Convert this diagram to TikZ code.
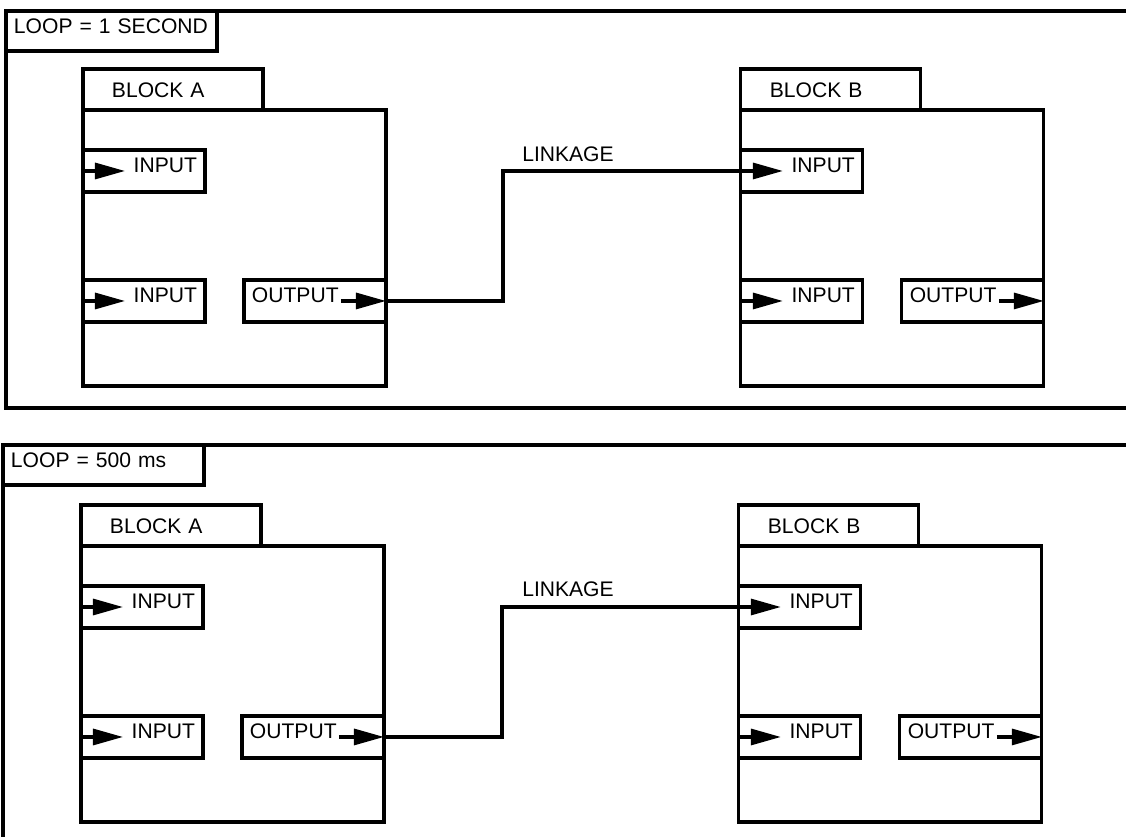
\documentclass[tikz,border=0pt]{standalone}
\usepackage{fontspec}
\setmainfont{Liberation Sans}
\usetikzlibrary{arrows.meta,positioning}

\begin{document}
\begin{tikzpicture}[%
    x=0.02cm, y=-0.02cm,        % one unit per pixel, y runs downwards
    line width=1.8pt,           % all boxes and lines share one weight
    every node/.style={font=\fontsize{12}{14}\selectfont},
    ]
% -------------------------------------------------
% Box styles
\tikzset{
  base/.style={draw, rectangle, inner sep=0pt, outer sep=0pt},
  panel/.style={base, anchor=north west},
  title/.style={base, fill=white, anchor=north west, minimum height=0.8cm,
    align=left, inner xsep=0.16cm, text height=0.3cm, text depth=0.22cm},
  block/.style={base, anchor=north west, minimum width=6.06cm, minimum height=5.52cm},
  tab/.style={base, fill=white, minimum width=3.6cm, minimum height=0.82cm,
    text width=2.44cm, inner xsep=0.58cm, align=left,
    text height=0.3cm, text depth=0pt},
  % Small arrow drawn inside the port boxes
  pin/.style={-{Triangle[length=0.6cm,width=0.32cm]}},
  inport/.style={base, minimum width=2.44cm, minimum height=0.84cm,
    text width=2.12cm, inner xsep=0.16cm, align=right,
    text height=0.3cm, text depth=0.24cm,
    path picture={\draw[pin] (path picture bounding box.west) -- ++(0.84cm,0);}},
  outport/.style={base, minimum width=2.84cm, minimum height=0.84cm,
    text width=2.52cm, inner xsep=0.16cm, align=left,
    text height=0.3cm, text depth=0.24cm,
    path picture={\draw[pin] ([xshift=-0.9cm]path picture bounding box.east)
      -- (path picture bounding box.east);}},
  link/.style={draw},
  lbl/.style={inner sep=0pt}
}
\useasboundingbox (0,0) rectangle (1126,836);
\clip (0,0) rectangle (1126,836);
% -------------------------------------------------
% Upper loop

\node[panel, minimum width=22.68cm, minimum height=7.94cm] (p1) at (6,11) {};
\node[title, text width=3.9cm] (t1) at (p1.north west) {LOOP = 1 SECOND};

\node[block] (a1) at (83,110) {};
\node[tab, above=0pt of a1.north west, anchor=south west] (a1tab) {BLOCK A};
\node[inport, below=0.8cm of a1.north west, anchor=north west] (a1in1) {INPUT};
\node[inport, below=3.4cm of a1.north west, anchor=north west] (a1in2) {INPUT};
\node[outport, below=3.4cm of a1.north east, anchor=north east] (a1out) {OUTPUT};

\node[block, right=7.1cm of a1] (b1) {};
\node[tab, above=0pt of b1.north west, anchor=south west] (b1tab) {BLOCK B};
\node[inport, below=0.8cm of b1.north west, anchor=north west] (b1in1) {INPUT};
\node[inport, below=3.4cm of b1.north west, anchor=north west] (b1in2) {INPUT};
\node[outport, below=3.4cm of b1.north east, anchor=north east] (b1out) {OUTPUT};

\draw[link] (a1out.east) -- ++(2.34cm,0) |- (b1in1.west);	%A output to B input
\node[lbl] (lk1) at (568,154) {LINKAGE};

% -------------------------------------------------
% Lower loop

\node[panel, minimum width=22.74cm, minimum height=8.1cm] (p2) at (3,445) {};
\node[title, text width=3.7cm] (t2) at (p2.north west) {LOOP = 500 ms};

\node[block] (a2) at (81,546) {};
\node[tab, above=0pt of a2.north west, anchor=south west] (a2tab) {BLOCK A};
\node[inport, below=0.8cm of a2.north west, anchor=north west] (a2in1) {INPUT};
\node[inport, below=3.4cm of a2.north west, anchor=north west] (a2in2) {INPUT};
\node[outport, below=3.4cm of a2.north east, anchor=north east] (a2out) {OUTPUT};

\node[block, right=7.1cm of a2] (b2) {};
\node[tab, above=0pt of b2.north west, anchor=south west] (b2tab) {BLOCK B};
\node[inport, below=0.8cm of b2.north west, anchor=north west] (b2in1) {INPUT};
\node[inport, below=3.4cm of b2.north west, anchor=north west] (b2in2) {INPUT};
\node[outport, below=3.4cm of b2.north east, anchor=north east] (b2out) {OUTPUT};

\draw[link] (a2out.east) -- ++(2.36cm,0) |- (b2in1.west);	%A output to B input
\node[lbl] (lk2) at (568,589) {LINKAGE};

% -------------------------------------------------
\end{tikzpicture}
\end{document}
